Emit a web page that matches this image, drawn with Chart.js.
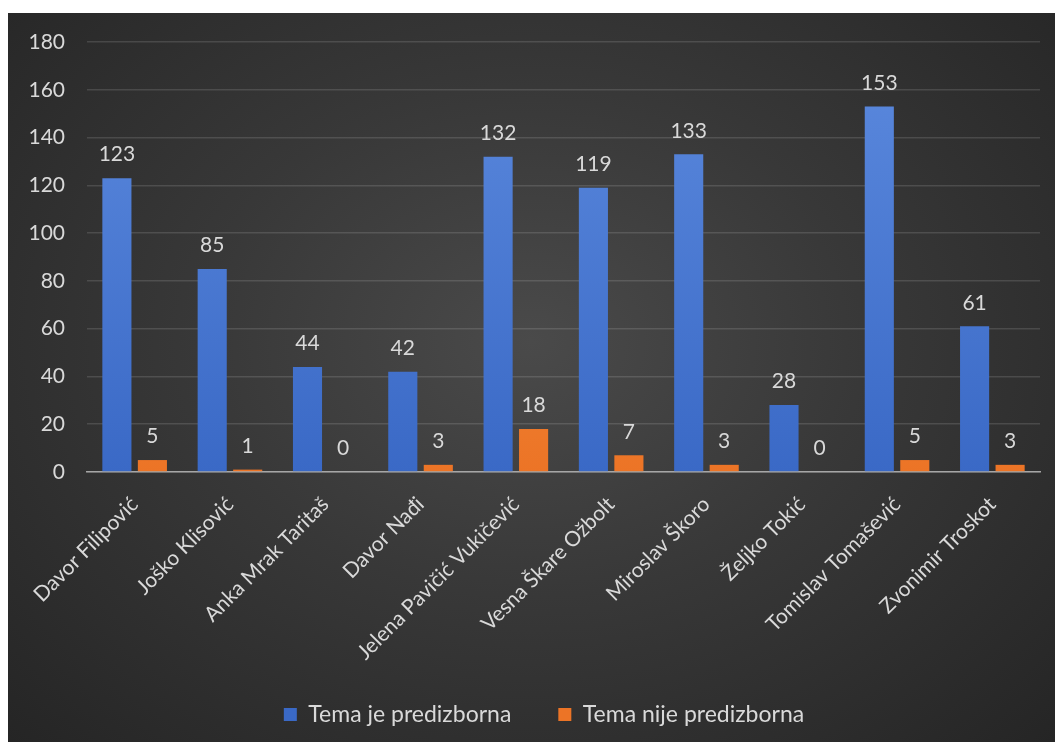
<!DOCTYPE html>
<html>
<head>
<meta charset="utf-8">
<script src="https://cdn.jsdelivr.net/npm/chart.js@4"></script>
<style>
    html, body { margin: 0; padding: 0; background: #fff; }
    #wrap {
        position: absolute; left: 8px; top: 13px; width: 1047px; height: 729px;
        background: radial-gradient(ellipse at 50% 45%, #4a4a4a 0%, #383838 45%, #252525 100%);
    }
</style>
</head>
<body>
<div id="wrap"><canvas id="chart" width="1047" height="729"></canvas></div>
<script>
const candidates = ['Davor Filipović', 'Joško Klisović', 'Anka Mrak Taritaš', 'Davor Nađi',
    'Jelena Pavičić Vukičević', 'Vesna Škare Ožbolt', 'Miroslav Škoro', 'Željko Tokić',
    'Tomislav Tomašević', 'Zvonimir Troskot'];
const predizborna = [123, 85, 44, 42, 132, 119, 133, 28, 153, 61];
const nijePredizborna = [5, 1, 0, 3, 18, 7, 3, 0, 5, 3];
const yTicks = [0, 20, 40, 60, 80, 100, 120, 140, 160, 180];

const textColor = '#d9d9d9';
const fontFamily = 'Lato, "Open Sans", sans-serif';

// vertical gradient for the bar fills
function barGradient(top, bottom) {
    return function (context) {
        const area = context.chart.chartArea;
        if (!area) return bottom;
        const g = context.chart.ctx.createLinearGradient(0, area.top, 0, area.bottom);
        g.addColorStop(0, top);
        g.addColorStop(1, bottom);
        return g;
    };
}

// value labels above each bar
const valueLabels = {
    id: 'valueLabels',
    afterLayout(chart) {
        // tick labels get clipped to the axis box, so widen the boxes a bit
        chart.scales.y.left = 0;
        chart.scales.x.bottom = chart.height;
    },
    afterDatasetsDraw(chart) {
        const ctx = chart.ctx;
        ctx.save();
        ctx.fillStyle = textColor;
        ctx.font = '21px ' + fontFamily;
        ctx.textAlign = 'center';
        ctx.textBaseline = 'bottom';
        chart.data.datasets.forEach((ds, i) => {
            chart.getDatasetMeta(i).data.forEach((bar, j) => {
                ctx.fillText(ds.data[j], bar.x, bar.y - 13);
            });
        });
        ctx.restore();
    }
};

new Chart(document.getElementById('chart').getContext('2d'), {
    type: 'bar',
    data: {
        labels: candidates,
        datasets: [{
            label: 'Tema je predizborna',
            data: predizborna,
            backgroundColor: barGradient('#5c8ade', '#3a69c6')
        }, {
            label: 'Tema nije predizborna',
            data: nijePredizborna,
            backgroundColor: barGradient('#f79a4a', '#ec7426')
        }]
    },
    options: {
        responsive: false,
        animation: false,
        categoryPercentage: 0.745,
        barPercentage: 0.82,
        layout: { padding: { top: 29, right: 15, bottom: 6, left: 40 } },
        scales: {
            x: {
                grid: { display: false },
                border: { color: '#a6a6a6', width: 1.5 },
                ticks: {
                    color: textColor,
                    font: { family: fontFamily, size: 21 },
                    minRotation: 45,
                    maxRotation: 45,
                    padding: 12
                },
                afterFit(scale) { scale.height = 184; }
            },
            y: {
                min: 0,
                max: 180,
                afterBuildTicks(scale) { scale.ticks = yTicks.map(v => ({ value: v })); },
                grid: { color: 'rgba(255,255,255,0.13)', drawTicks: false, lineWidth: 1.5 },
                border: { display: false },
                ticks: {
                    color: textColor,
                    font: { family: fontFamily, size: 21 },
                    padding: 22
                },
                afterFit(scale) {
                    scale.width = 39;
                    scale.paddingTop = 0;
                }
            }
        },
        plugins: {
            legend: {
                position: 'bottom',
                labels: {
                    color: textColor,
                    font: { family: fontFamily, size: 23 },
                    boxWidth: 13,
                    boxHeight: 13,
                    padding: 47
                }
            },
            tooltip: { enabled: false }
        }
    },
    plugins: [valueLabels]
});
</script>
</body>
</html>
